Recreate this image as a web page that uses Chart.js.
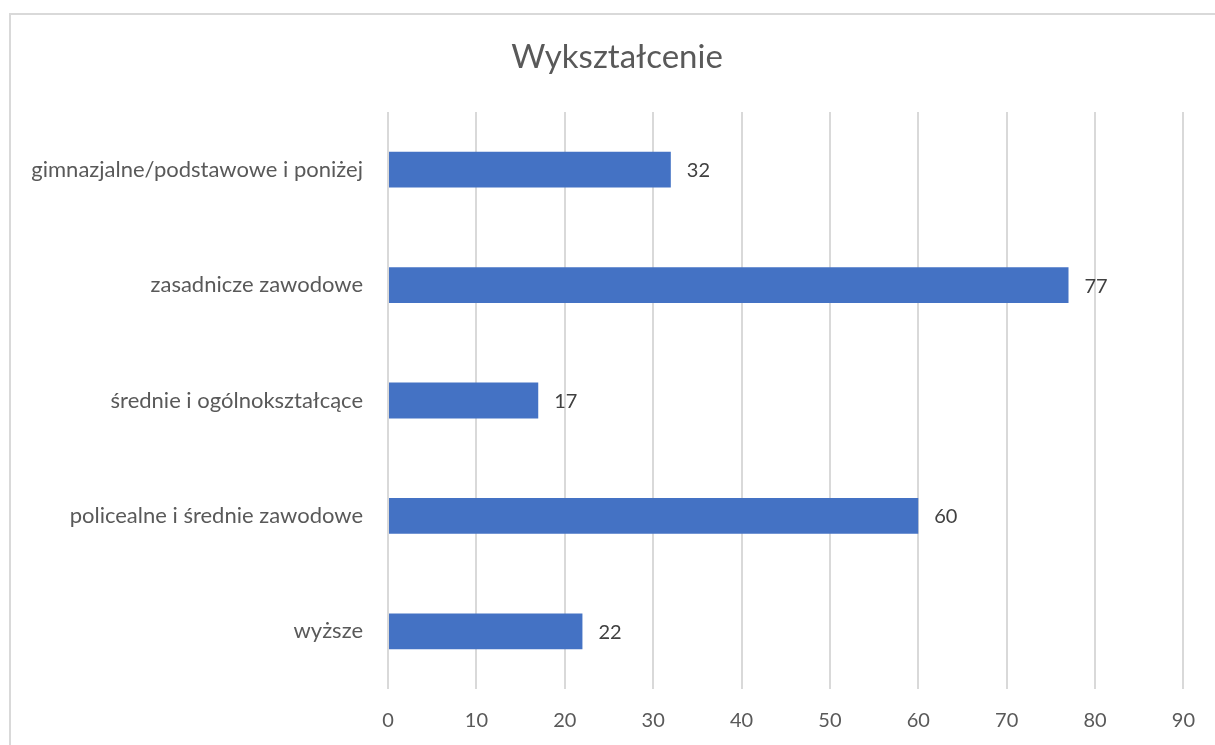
<!DOCTYPE html>
<html>
<head>
<meta charset="utf-8">
<script src="https://cdn.jsdelivr.net/npm/chart.js@4/dist/chart.umd.min.js"></script>
<style>
html,body{margin:0;padding:0;background:#fff;overflow:hidden;}
#wrap{position:relative;width:1215px;height:745px;}
</style>
</head>
<body>
<div id="wrap"><canvas id="c" width="1215" height="745"></canvas></div>
<script>
const categories = ["gimnazjalne/podstawowe i poniżej", "zasadnicze zawodowe", "średnie i ogólnokształcące", "policealne i średnie zawodowe", "wyższe"];
const values = [32, 77, 17, 60, 22];
const xTicks = [0, 10, 20, 30, 40, 50, 60, 70, 80, 90];
const chartTitle = "Wykształcenie";

const FONT = "Lato, 'Open Sans', sans-serif";

const borderPlugin = {
  id: 'borderBox',
  beforeDraw(chart) {
    const ctx = chart.ctx;
    ctx.save();
    ctx.fillStyle = '#ffffff';
    ctx.fillRect(0, 0, chart.width, chart.height);
    ctx.strokeStyle = '#d9d9d9';
    ctx.lineWidth = 2;
    ctx.strokeRect(10, 14, 1300, 900);
    ctx.restore();
  }
};

const titlePlugin = {
  id: 'centeredTitle',
  afterDraw(chart) {
    const ctx = chart.ctx;
    ctx.save();
    ctx.font = "33px " + FONT;
    ctx.fillStyle = '#595959';
    ctx.textAlign = 'center';
    ctx.textBaseline = 'middle';
    ctx.fillText(chartTitle, 617, 57);
    ctx.restore();
  }
};

const labelPlugin = {
  id: 'valueLabels',
  afterDatasetsDraw(chart) {
    const ctx = chart.ctx;
    const meta = chart.getDatasetMeta(0);
    ctx.save();
    ctx.font = "20px " + FONT;
    ctx.fillStyle = '#404040';
    ctx.textAlign = 'left';
    ctx.textBaseline = 'middle';
    meta.data.forEach((bar, i) => {
      ctx.fillText(String(values[i]), bar.x + 16, bar.y + 1);
    });
    ctx.restore();
  }
};

new Chart(document.getElementById('c'), {
  type: 'bar',
  data: {
    labels: categories,
    datasets: [{
      data: values,
      backgroundColor: '#4472C4',
      borderWidth: 0,
      barPercentage: 0.31,
      categoryPercentage: 1
    }]
  },
  options: {
    indexAxis: 'y',
    responsive: false,
    animation: false,
    devicePixelRatio: 1,
    layout: { padding: { left: 0, right: 31, top: 112, bottom: 0 } },
    plugins: {
      legend: { display: false },
      tooltip: { enabled: false },
      title: { display: false }
    },
    scales: {
      x: {
        min: 0, max: 90,
        afterBuildTicks(scale) { scale.ticks = xTicks.map(v => ({ value: v })); },
        afterFit(scale) { scale.height = 56; },
        grid: { color: '#d9d9d9', lineWidth: 2, drawTicks: false },
        border: { display: false },
        ticks: { color: '#595959', font: { family: FONT, size: 20 }, padding: 20 }
      },
      y: {
        afterFit(scale) { scale.width = 388; },
        grid: { display: false, drawTicks: false },
        border: { display: false },
        ticks: { color: '#595959', font: { family: FONT, size: 22 }, padding: 25 }
      }
    }
  },
  plugins: [borderPlugin, labelPlugin, titlePlugin]
});
</script>
</body>
</html>
